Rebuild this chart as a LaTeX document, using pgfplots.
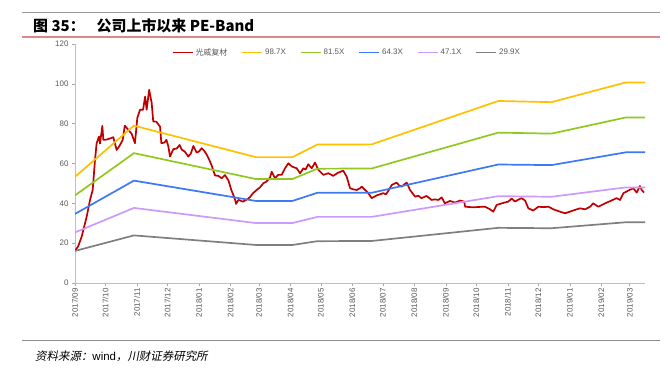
\documentclass[border=0pt]{standalone}
\usepackage{fontspec}
\setmainfont{Liberation Sans}
\newfontfamily\cjk{Noto Sans CJK SC}
\newfontfamily\cjkit[FakeSlant=0.2]{Noto Sans CJK SC}
\usepackage{pgfplots}
\pgfplotsset{compat=1.18}
\definecolor{cRed}{HTML}{C00000}
\definecolor{cYel}{HTML}{FFC000}
\definecolor{cGrn}{HTML}{92C81E}
\definecolor{cBlu}{HTML}{3D78F5}
\definecolor{cPur}{HTML}{CC99FF}
\definecolor{cGry}{HTML}{7F7F7F}
\definecolor{txtg}{HTML}{595959}
\definecolor{axg}{HTML}{BFBFBF}
\definecolor{pinkl}{HTML}{D9898C}

\pgfplotstableread{
d v
0 16.2
3 18.3
6.6 23.3
11.5 33.3
14.8 41.7
17.4 46.7
19.7 61.8
21.3 70.2
23.6 73.5
24.6 70
26.9 78.9
27.9 71.9
31 72
34 72.5
37.7 73.2
41 66.8
44 69
47 71.9
49 79
52.5 76.9
55.8 74.9
59 70.2
61.3 82.8
64 87
67 87
69 93.6
70.5 87
73 97
75.5 90.3
77 81.1
80 81
83.7 78.5
85 70.2
88 70.5
90 71.9
91.9 68.5
93.5 63.5
96.8 67.2
100 67.5
103 69.3
105 67.0
108 66
111.5 63.5
114 65
116.5 68.8
119.7 65.5
122 66
124.7 67.7
127 66.5
129.6 64.5
132 62
134.5 59
137.8 54
141 53.8
144.4 52.6
147.6 54.2
151 51.5
154 46.5
156 44
157.5 42
158.5 39.7
160.8 41.7
162.4 41.5
165 40.8
167.3 41.4
170 42.2
172.2 43.1
175 45
178.8 46.7
182 48
185.4 50.1
188 50.8
190 51.8
192 53
193.6 55.9
196.9 52.6
200 54.3
203.4 54.3
206.7 57.6
210 60.1
213.4 58.5
218.2 57.6
221.5 55.1
224.8 57.6
227 57
229.6 59.6
233 57.6
236.2 60.5
239.5 56.8
244.4 54.3
249.3 55.1
254.2 53.8
259 55.4
264 56.4
267.4 53.4
270.7 47.6
274 47
277.3 46.7
280.5 47.6
282.2 48.4
285.5 46.7
288.7 45.1
292 42.6
297 44
303.5 45.1
306 44.5
308.5 46.4
311.7 49.2
314 49.8
316.6 50.4
319 49
321.5 48.4
324 49.5
326.5 50.4
329.7 46.7
334.6 43.4
338 43.8
341 42.6
346 43.7
351 41.7
354 42
357.6 41.7
360.9 43
364 40
369 41.2
374 40.4
379 41.4
383 40.9
384 38.3
392 38
398 38.2
403.5 38.3
408.5 37
411.7 35.8
415 39.2
421.5 40.2
426.5 40.9
429.8 42.4
433 40.9
437.3 42.1
439.6 42.6
443 41.4
446.2 37.5
451 36.4
456 38.3
461 38.1
466 38.3
470.8 37
477.4 35.8
482.3 35
487 35.8
492 36.7
497 37.5
502 37
507 38.3
510 40
515 38.3
521.6 40
528 41.4
533 42.6
536.4 41.7
539.7 45.1
544.6 46.4
549.5 47.6
552.8 45.4
556 48.7
557.8 46.7
560 45.4
}\price

\pgfplotstableread{
d a b c e f
0 53.3 44.0 34.7 25.4 16.1
58 79.0 65.2 51.4 37.7 23.9
178 63.2 52.2 41.2 30.1 19.1
214 63.2 52.2 41.2 30.1 19.1
238.5 69.5 57.4 45.3 33.2 21.0
292 69.6 57.5 45.3 33.2 21.1
416.6 91.4 75.5 59.5 43.6 27.7
469 90.8 75.0 59.2 43.3 27.5
542 100.7 83.1 65.6 48.0 30.5
561 100.7 83.1 65.6 48.0 30.5
}\bands

\begin{document}
\begin{tikzpicture}
\useasboundingbox (0,0) rectangle (668bp,-376bp);
\draw[line width=1bp, color=gray!80] (22bp,-12bp) -- (660bp,-12bp);
\draw[line width=1.5bp, color=pinkl] (22bp,-37bp) -- (660bp,-37bp);
\node[anchor=base west, inner sep=0pt, font=\cjk\bfseries\fontsize{15}{17}\selectfont] at (33bp,-31bp) {图 35：\hspace{12bp}公司上市以来 PE-Band};
\draw[line width=1bp, color=gray!90] (22bp,-340bp) -- (660bp,-340bp);
\node[anchor=base west, inner sep=0pt, font=\fontsize{11.5}{13}\selectfont] at (35bp,-360bp) {{\cjkit 资料来源：}wind{\cjkit ，川财证券研究所}};
\begin{axis}[
  at={(75bp,-283bp)}, anchor=south west,
  scale only axis, width=570bp, height=239bp,
  xmin=0, xmax=561, ymin=0, ymax=120,
  axis x line*=bottom, axis y line*=left,
  axis line style={color=axg, line width=1bp},
  tick style={color=gray!70, line width=0.6bp},
  tick align=outside, major tick length=3bp,
  ytick={0,20,...,120},
  xtick={0,30,61,91,122,153,181,212,242,273,303,334,365,395,426,456,487,518,546},
  xticklabels={2017/09,2017/10,2017/11,2017/12,2018/01,2018/02,2018/03,2018/04,2018/05,2018/06,2018/07,2018/08,2018/09,2018/10,2018/11,2018/12,2019/01,2019/02,2019/03},
  x tick label style={rotate=90, anchor=east, font=\fontsize{8}{9}\selectfont, text=txtg, inner sep=2bp},
  y tick label style={font=\fontsize{8}{9}\selectfont, text=txtg},
  /pgf/number format/assume math mode=true,
  legend columns=6,
  legend style={at={(axis description cs:0.477,0.995)}, anchor=north, draw=none, fill=none,
    font=\fontsize{8}{9}\selectfont, text=txtg, inner sep=1bp,
    /tikz/every even column/.append style={column sep=12bp}},
  legend image code/.code={\draw[#1] (0bp,0bp) -- (20bp,0bp);},
  every axis plot/.append style={line width=1.7bp},
]
\addplot[cRed, line width=1.7bp, line join=round] table[x=d, y=v] {\price};
\addlegendentry{\cjk 光威复材}
\addplot[cYel] table[x=d, y=a] {\bands};
\addlegendentry{98.7X}
\addplot[cGrn] table[x=d, y=b] {\bands};
\addlegendentry{81.5X}
\addplot[cBlu] table[x=d, y=c] {\bands};
\addlegendentry{64.3X}
\addplot[cPur] table[x=d, y=e] {\bands};
\addlegendentry{47.1X}
\addplot[cGry] table[x=d, y=f] {\bands};
\addlegendentry{29.9X}
\end{axis}
\end{tikzpicture}
\end{document}
